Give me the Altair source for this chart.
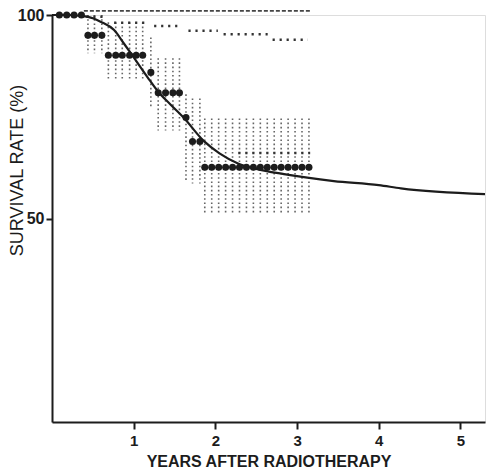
import altair as alt
import pandas as pd

# Observed survival points (years, %)
pt_years = [0.09, 0.18, 0.27, 0.36,
            0.44, 0.52, 0.61,
            0.69, 0.78, 0.86, 0.95, 1.03, 1.11,
            1.21,
            1.30, 1.39, 1.48, 1.56,
            1.64,
            1.72, 1.81,
            1.87, 1.955, 2.04, 2.125, 2.21, 2.295, 2.38, 2.465, 2.55, 2.635, 2.72,
            2.805, 2.89, 2.975, 3.06, 3.145]
pt_rate = [100, 100, 100, 100,
           95.0, 95.0, 95.0,
           90.1, 90.1, 90.1, 90.1, 90.1, 90.1,
           85.9,
           80.9, 80.9, 80.9, 80.9,
           74.8,
           68.9, 68.9] + [62.6] * 16
# Confidence band (upper, lower) per point; None where not drawn
ci_hi = [None] * 4 + [100] * 3 + [98.2] * 6 + [94.5] + [89.4] * 4 + [80.5] + [79.5] * 2 + [74.6] * 16
ci_lo = [None] * 4 + [90.6] * 3 + [84.0] * 6 + [77.0] + [71.6] * 4 + [59.0] + [58.6] * 2 + [51.2] * 16

# Fitted curve
curve_x = [0, 0.2, 0.35, 0.5, 0.6, 0.76, 0.88, 1.0, 1.17, 1.29, 1.45, 1.61, 1.86,
           2.05, 2.27, 2.5, 2.84, 3.45, 4.0, 4.27, 5.3]
curve_y = [100, 100, 99.8, 99.2, 98.3, 96.3, 93.0, 89.6, 84.7, 81.4, 78.0, 74.8, 69.0,
           66.0, 63.6, 62.2, 60.9, 59.2, 58.2, 57.4, 56.0]

# Dashed reference line (top)
ref_start = [0.39]
ref_end = [3.16]
ref_level = [101.0]

# Dotted step reference series
step_start = [0.42, 0.76, 1.25, 1.67, 2.10, 2.70, 2.28]
step_end = [0.66, 1.15, 1.58, 2.03, 2.64, 3.13, 3.16]
step_level = [99.6, 98.1, 97.3, 96.1, 95.3, 93.9, 66.1]

x_ticks = [1, 2, 3, 4, 5]
y_ticks = [50, 100]

ink = "#1c1c1c"
font = "Liberation Sans"

pts = pd.DataFrame({"x": pt_years, "y": pt_rate, "hi": ci_hi, "lo": ci_lo})
ci = pts.dropna()
curve = pd.DataFrame({"x": curve_x, "y": curve_y})
ref = pd.DataFrame({"x": ref_start, "x2": ref_end, "y": ref_level})
steps = pd.DataFrame({"x": step_start, "x2": step_end, "y": step_level})

xs = alt.Scale(domain=[0, 5.3], nice=False, zero=False)
ys = alt.Scale(domain=[0, 100], nice=False)

xax = alt.Axis(values=x_ticks, format="d", title="YEARS AFTER RADIOTHERAPY", grid=False,
               domainColor=ink, domainWidth=2, tickColor=ink, tickWidth=2, tickSize=7,
               labelFont=font, labelFontSize=15, labelFontWeight="bold", labelColor=ink,
               labelPadding=4, titleFont=font, titleFontSize=16, titleFontWeight="bold",
               titleColor=ink, titlePadding=5)
yax = alt.Axis(values=y_ticks, format="d", title="SURVIVAL RATE (%)", grid=False,
               domainColor=ink, domainWidth=2, tickColor=ink, tickWidth=2, tickSize=6,
               labelFont=font, labelFontSize=16, labelFontWeight="bold", labelColor=ink,
               labelPadding=2, titleFont=font, titleFontSize=18, titleFontWeight="normal",
               titleColor=ink, titleX=-35, titleY=155, titleBaseline="middle", titleAngle=-90)

ci_layer = alt.Chart(ci).mark_rule(color="#666", strokeWidth=1.6, strokeDash=[1.6, 2.6]).encode(
    x=alt.X("x:Q", scale=xs, axis=xax),
    y=alt.Y("hi:Q", scale=ys, axis=yax),
    y2="lo:Q",
)
ref_layer = alt.Chart(ref).mark_rule(color="#444", strokeWidth=1.8, strokeDash=[4, 2]).encode(
    x=alt.X("x:Q", scale=xs), x2="x2:Q", y=alt.Y("y:Q", scale=ys)
)
step_layer = alt.Chart(steps).mark_rule(color="#333", strokeWidth=2.5, strokeDash=[2.2, 4.8]).encode(
    x=alt.X("x:Q", scale=xs), x2="x2:Q", y=alt.Y("y:Q", scale=ys)
)
curve_layer = alt.Chart(curve).mark_line(color=ink, strokeWidth=2.2, interpolate="monotone").encode(
    x=alt.X("x:Q", scale=xs), y=alt.Y("y:Q", scale=ys)
)
pt_layer = alt.Chart(pts).mark_circle(color=ink, size=50, opacity=1).encode(
    x=alt.X("x:Q", scale=xs), y=alt.Y("y:Q", scale=ys)
)

chart = alt.layer(ci_layer, ref_layer, step_layer, curve_layer, pt_layer).properties(
    width=433, height=407,
    autosize=alt.AutoSizeParams(type="none"),
    padding={"left": 52, "top": 15, "right": 8, "bottom": 53},
).configure_view(stroke=None).configure(background="white")

chart.save("out.html", embed_options={"renderer": "svg", "actions": False})
